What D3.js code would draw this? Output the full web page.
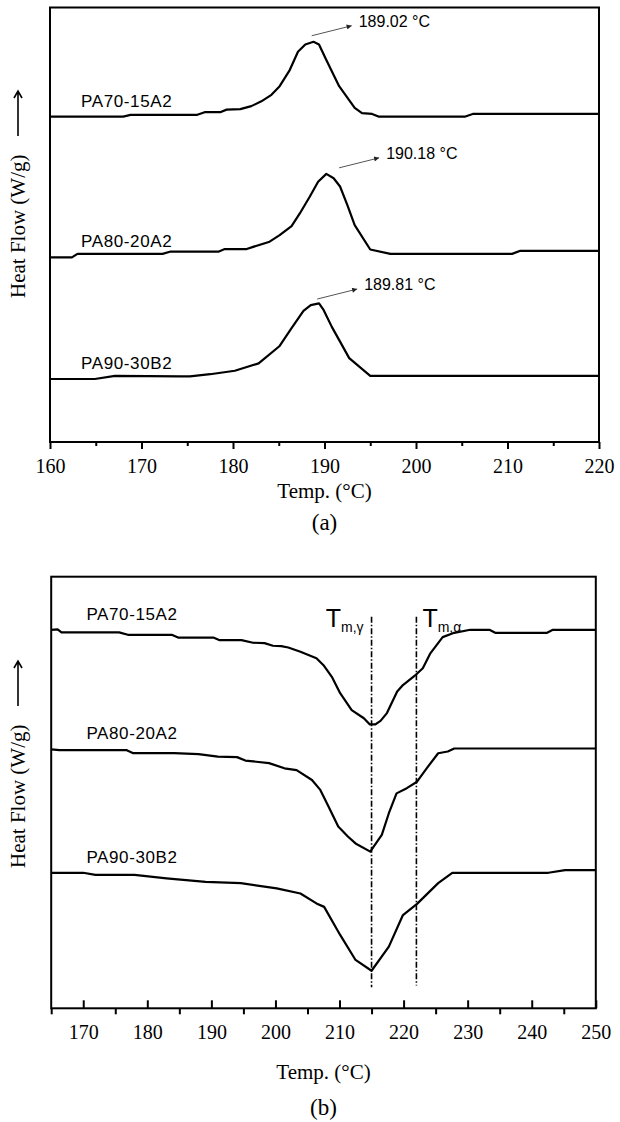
<!DOCTYPE html>
<html>
<head>
<meta charset="utf-8">
<script src="https://cdn.jsdelivr.net/npm/d3@7"></script>
<style>
  body { margin: 0; background: #fff; }
  svg { display: block; }
</style>
</head>
<body>
<div id="chart"></div>
<script>
// ---------- data (heat flow in arbitrary units) ----------
var sampleNames = ["PA70-15A2", "PA80-20A2", "PA90-30B2"];

// (a) cooling scans, 160-220 °C
var coolT70 = [160, 168.0, 168.8, 176.1, 176.9, 178.6, 179.3, 180.8, 182.0, 183.1, 184.2, 185.1, 186.2, 187.1, 187.9, 188.8, 189.4, 190.2, 191.6, 193.3, 194.1, 195.2, 195.9, 205.4, 206.2, 220];
var coolV70 = [7.49, 7.49, 7.53, 7.53, 7.59, 7.59, 7.65, 7.66, 7.73, 7.84, 7.99, 8.19, 8.56, 8.98, 9.15, 9.21, 9.15, 8.79, 8.19, 7.69, 7.57, 7.55, 7.49, 7.49, 7.55, 7.55];
var coolT80 = [160, 162.4, 163.0, 172.3, 173.1, 178.4, 179.1, 181.5, 182.2, 184.0, 185.1, 186.4, 187.3, 188.4, 189.3, 190.2, 191.0, 191.7, 192.5, 193.3, 195.0, 197.2, 210.5, 211.4, 220];
var coolV80 = [4.25, 4.25, 4.33, 4.33, 4.38, 4.38, 4.44, 4.44, 4.49, 4.61, 4.76, 4.97, 5.26, 5.65, 5.99, 6.17, 6.07, 5.88, 5.45, 4.99, 4.43, 4.33, 4.33, 4.40, 4.40];
var coolT90 = [160, 164.9, 167.1, 174.2, 175.3, 177.5, 180.2, 182.8, 185.1, 186.4, 187.7, 188.5, 189.4, 189.9, 190.8, 191.7, 192.7, 195.0, 220];
var coolV90 = [1.45, 1.45, 1.52, 1.51, 1.51, 1.56, 1.64, 1.81, 2.21, 2.62, 3.02, 3.15, 3.19, 3.04, 2.65, 2.31, 1.93, 1.52, 1.52];

var peakLabels = ["189.02", "190.18", "189.81"];
var peakArrowT = [188.6, 191.6, 189.2];   // where the pointer starts
var peakArrowV = [9.35, 6.31, 3.29];

// (b) heating scans, 165-250 °C
var heatT70 = [165, 166.0, 166.6, 175.6, 177.1, 183.9, 184.8, 190.3, 191.3, 194.7, 196.5, 198.3, 199.6, 200.9, 202.0, 203.9, 206.4, 207.5, 208.8, 210.1, 211.9, 213.8, 214.7, 215.6, 216.4, 217.4, 219.0, 219.9, 221.7, 223.0, 224.2, 226.1, 227.9, 230.4, 233.4, 234.3, 242.4, 243.3, 250];
var heatV70 = [8.77, 8.78, 8.71, 8.71, 8.65, 8.65, 8.59, 8.59, 8.53, 8.53, 8.47, 8.46, 8.40, 8.39, 8.36, 8.26, 8.11, 7.95, 7.68, 7.30, 6.91, 6.72, 6.58, 6.58, 6.66, 6.84, 7.34, 7.49, 7.70, 7.88, 8.23, 8.60, 8.70, 8.77, 8.77, 8.70, 8.70, 8.77, 8.77];
var heatT80 = [165, 166.3, 176.8, 177.8, 184.2, 188.0, 191.0, 194.0, 195.3, 199.0, 201.4, 203.3, 205.7, 207.0, 208.3, 209.8, 211.3, 212.5, 214.8, 215.3, 216.6, 217.7, 218.9, 220.5, 222.1, 223.6, 225.4, 226.9, 227.9, 250];
var heatV80 = [6.00, 5.98, 5.98, 5.91, 5.91, 5.89, 5.83, 5.82, 5.74, 5.68, 5.56, 5.52, 5.29, 5.06, 4.67, 4.21, 3.98, 3.82, 3.63, 3.74, 4.02, 4.52, 4.98, 5.10, 5.25, 5.56, 5.91, 5.95, 6.02, 6.02];
var heatT90 = [165, 170.0, 171.9, 178.0, 183.0, 189.1, 194.6, 200.2, 203.9, 206.4, 207.6, 210.1, 212.5, 215.0, 217.7, 219.9, 222.1, 225.4, 227.6, 242.6, 245.2, 250];
var heatV90 = [3.14, 3.14, 3.09, 3.09, 3.01, 2.93, 2.90, 2.78, 2.66, 2.43, 2.35, 1.70, 1.12, 0.87, 1.43, 2.16, 2.42, 2.90, 3.14, 3.14, 3.20, 3.20];

// melting temperature markers
var tmTemps = [215, 222];
var tmSubs = ["m,γ", "m,α"];
var tmTop = 9.07;
var tmBottom = [0.49, 0.53];

// axis ticks
var ticksA = [160, 170, 180, 190, 200, 210, 220];
var minorA = [165, 175, 185, 195, 205, 215];
var ticksB = [170, 180, 190, 200, 210, 220, 230, 240, 250];
var minorB = [165, 175, 185, 195, 205, 215, 225, 235, 245];

// ---------- drawing ----------
var serif = "'Liberation Serif','Times New Roman',serif";
var sans = "'Liberation Sans',Arial,sans-serif";

var svg = d3.select("#chart").append("svg")
  .attr("width", 620)
  .attr("height", 1122);

var defs = svg.append("defs");
defs.append("marker")
  .attr("id", "ah")
  .attr("viewBox", "0 0 10 10")
  .attr("refX", 10).attr("refY", 5)
  .attr("markerWidth", 9).attr("markerHeight", 5)
  .attr("markerUnits", "userSpaceOnUse")
  .attr("orient", "auto")
  .append("path").attr("d", "M0,0 L10,5 L0,10 z").attr("fill", "#222");

var xA = d3.scaleLinear().domain([160, 220]).range([50, 599]);
var yA = d3.scaleLinear().domain([0, 10]).range([442, 7.5]);
var xB = d3.scaleLinear().domain([165, 250]).range([51.2, 595.8]);
var yB = d3.scaleLinear().domain([0, 10]).range([1008.3, 576.7]);

function drawCurve(x, y, T, V) {
  var line = d3.line().x(d => x(d[0])).y(d => y(d[1]));
  svg.append("path")
    .datum(d3.zip(T, V))
    .attr("d", line)
    .attr("fill", "none")
    .attr("stroke", "#000")
    .attr("stroke-width", 2.2)
    .attr("stroke-linejoin", "round");
}

function frame(x, y) {
  svg.append("rect")
    .attr("x", x.range()[0]).attr("y", y.range()[1])
    .attr("width", x.range()[1] - x.range()[0])
    .attr("height", y.range()[0] - y.range()[1])
    .attr("fill", "none").attr("stroke", "#000").attr("stroke-width", 2);
}

function styleAxis(g) {
  g.select(".domain").remove();
  g.selectAll("line").attr("stroke", "#000").attr("stroke-width", 2);
  g.selectAll("text").attr("font-family", serif).attr("font-size", 20).attr("fill", "#000");
}

function sampleLabel(x, y, name) {
  svg.append("text")
    .attr("x", x).attr("y", y)
    .attr("font-family", sans).attr("font-size", 17)
    .attr("letter-spacing", 0.6)
    .text(name);
}

function yLabel(cx, baseY) {
  // "Heat Flow (W/g)" reading upwards, then an arrow pointing up
  svg.append("text")
    .attr("transform", "translate(" + (cx + 7) + "," + baseY + ") rotate(-90)")
    .attr("font-family", serif).attr("font-size", 21)
    .text("Heat Flow (W/g)");
  var a0 = baseY - 162, a1 = baseY - 207;
  svg.append("path")
    .attr("d", "M" + cx + "," + a0 + " L" + cx + "," + a1 +
               " M" + (cx - 4) + "," + (a1 + 7) + " L" + cx + "," + a1 + " L" + (cx + 4) + "," + (a1 + 7))
    .attr("fill", "none").attr("stroke", "#000").attr("stroke-width", 1.6);
}

// ===== panel (a) =====
frame(xA, yA);
svg.append("g").attr("transform", "translate(0,442)")
  .call(d3.axisBottom(xA).tickValues(ticksA).tickSize(7).tickPadding(10))
  .call(styleAxis);
svg.append("g").attr("transform", "translate(0,442)")
  .call(d3.axisBottom(xA).tickValues(minorA).tickSize(4).tickFormat(""))
  .call(styleAxis);

drawCurve(xA, yA, coolT70, coolV70);
drawCurve(xA, yA, coolT80, coolV80);
drawCurve(xA, yA, coolT90, coolV90);

[coolV70, coolV80, coolV90].forEach(function (V, i) {
  sampleLabel(xA(163.4), yA(V[0]) - 10, sampleNames[i]);
});

peakLabels.forEach(function (lbl, i) {
  var x0 = xA(peakArrowT[i]), y0 = yA(peakArrowV[i]);
  svg.append("line")
    .attr("x1", x0).attr("y1", y0).attr("x2", x0 + 40).attr("y2", y0 - 10)
    .attr("stroke", "#555").attr("stroke-width", 1)
    .attr("marker-end", "url(#ah)");
  svg.append("text")
    .attr("x", x0 + 47).attr("y", y0 - 9)
    .attr("font-family", sans).attr("font-size", 16)
    .text(lbl + " °C");
});

svg.append("text")
  .attr("x", (xA.range()[0] + xA.range()[1]) / 2).attr("y", 498)
  .attr("text-anchor", "middle").attr("font-family", serif).attr("font-size", 21)
  .text("Temp. (°C)");
svg.append("text")
  .attr("x", (xA.range()[0] + xA.range()[1]) / 2).attr("y", 530)
  .attr("text-anchor", "middle").attr("font-family", serif).attr("font-size", 23)
  .text("(a)");
yLabel(18, 298);

// ===== panel (b) =====
frame(xB, yB);
svg.append("g").attr("transform", "translate(0,1008.3)")
  .call(d3.axisBottom(xB).tickValues(ticksB).tickSize(-8).tickPadding(17))
  .call(styleAxis);
svg.append("g").attr("transform", "translate(0,1008.3)")
  .call(d3.axisBottom(xB).tickValues(minorB).tickSize(6).tickFormat(""))
  .call(styleAxis);

drawCurve(xB, yB, heatT70, heatV70);
drawCurve(xB, yB, heatT80, heatV80);
drawCurve(xB, yB, heatT90, heatV90);

[heatV70, heatV80, heatV90].forEach(function (V, i) {
  sampleLabel(xB(170.5), yB(V[0]) - 10, sampleNames[i]);
});

tmTemps.forEach(function (t, i) {
  var x0 = xB(t);
  svg.append("line")
    .attr("x1", x0).attr("x2", x0)
    .attr("y1", yB(tmTop)).attr("y2", yB(tmBottom[i]))
    .attr("stroke", "#000").attr("stroke-width", 1.6)
    .attr("stroke-dasharray", "6,2,1.5,2");
  var lab = svg.append("text")
    .attr("x", i === 0 ? x0 - 8 : x0 + 6).attr("y", yB(tmTop) + 10)
    .attr("text-anchor", i === 0 ? "end" : "start")
    .attr("font-family", sans).attr("font-size", 25);
  lab.append("tspan").text("T");
  lab.append("tspan").attr("font-size", 14).attr("dy", 5).text(tmSubs[i]);
});

svg.append("text")
  .attr("x", (xB.range()[0] + xB.range()[1]) / 2).attr("y", 1079)
  .attr("text-anchor", "middle").attr("font-family", serif).attr("font-size", 21)
  .text("Temp. (°C)");
svg.append("text")
  .attr("x", (xB.range()[0] + xB.range()[1]) / 2).attr("y", 1115)
  .attr("text-anchor", "middle").attr("font-family", serif).attr("font-size", 23)
  .text("(b)");
yLabel(18, 868);
</script>
</body>
</html>
